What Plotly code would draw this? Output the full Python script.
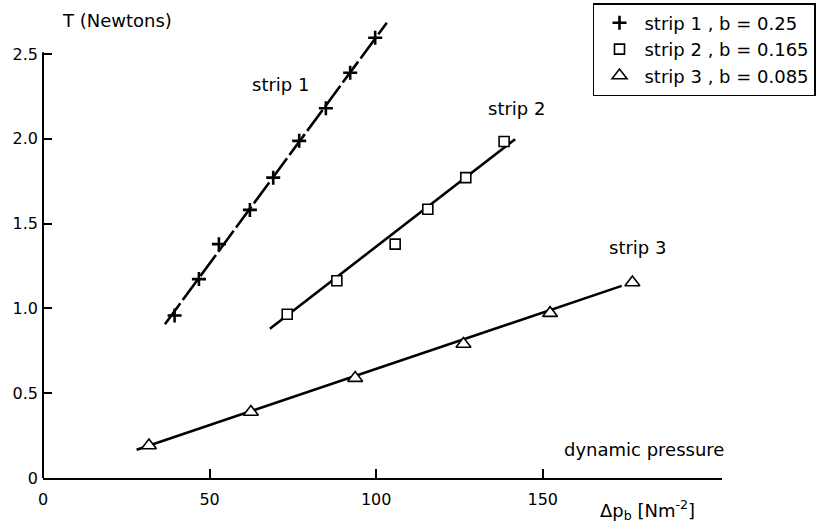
import plotly.graph_objects as go

# ---- data ----
s1_x = [39.5, 46.8, 52.8, 62.1, 69.1, 76.9, 84.9, 92.2, 99.7]
s1_y = [0.958, 1.173, 1.379, 1.581, 1.771, 1.988, 2.180, 2.390, 2.596]
s2_x = [73.3, 88.2, 105.7, 115.5, 126.9, 138.4]
s2_y = [0.966, 1.163, 1.379, 1.585, 1.771, 1.984]
s3_x = [31.8, 62.4, 93.7, 126.2, 152.2, 176.9]
s3_y = [0.192, 0.389, 0.589, 0.790, 0.972, 1.153]

# fitted straight lines (end points)
fit1_x = [36.6, 103.2]
fit1_y = [0.907, 2.685]
fit2_x = [68.1, 141.7]
fit2_y = [0.880, 1.998]
fit3_x = [28.1, 173.7]
fit3_y = [0.167, 1.133]

legend_names = ["strip 1 , b = 0.25", "strip 2 , b = 0.165", "strip 3 , b = 0.085"]
x_ticks = [0, 50, 100, 150]
x_ticktext = ["0", "50", "100", "150"]
y_ticks = [0, 0.5, 1.0, 1.5, 2.0, 2.5]
y_ticktext = ["0", "0.5", "1.0", "1.5", "2.0", "2.5"]

X_RANGE = [0, 203.8]
Y_RANGE = [0, 2.801]
Y_AXIS_TOP = 2.51

FONT = "DejaVu Sans"
fig = go.Figure()

# lines
fig.add_trace(go.Scatter(x=fit1_x, y=fit1_y, mode="lines", showlegend=False,
                         line=dict(color="black", width=2.6, dash="26px,4px"), hoverinfo="skip"))
fig.add_trace(go.Scatter(x=fit2_x, y=fit2_y, mode="lines", showlegend=False,
                         line=dict(color="black", width=2.6), hoverinfo="skip"))
fig.add_trace(go.Scatter(x=fit3_x, y=fit3_y, mode="lines", showlegend=False,
                         line=dict(color="black", width=2.6), hoverinfo="skip"))

# markers
fig.add_trace(go.Scatter(x=s1_x, y=s1_y, mode="markers", name=legend_names[0],
                         marker=dict(symbol="cross-thin", size=10, color="black",
                                     line=dict(color="black", width=2.6))))
fig.add_trace(go.Scatter(x=s2_x, y=s2_y, mode="markers", name=legend_names[1],
                         marker=dict(symbol="square", size=10, color="white",
                                     line=dict(color="black", width=1.6))))
fig.add_trace(go.Scatter(x=s3_x, y=s3_y, mode="markers", name=legend_names[2],
                         marker=dict(symbol="triangle-up", size=13, color="white",
                                     line=dict(color="black", width=1.6))))

ann_font = dict(family=FONT, size=18, color="black")
annotations = [
    dict(x=5.1, y=2.70, text="T (Newtons)", xanchor="left", yanchor="middle", yref="y"),
    dict(x=62.1, y=2.32, text="strip 1", xanchor="left", yanchor="middle", yref="y"),
    dict(x=133.0, y=2.18, text="strip 2", xanchor="left", yanchor="middle", yref="y"),
    dict(x=169.3, y=1.36, text="strip 3", xanchor="left", yanchor="middle", yref="y"),
    dict(x=155.8, y=0.17, text="dynamic pressure", xanchor="left", yanchor="middle", yref="y"),
    dict(x=166.6, y=-0.19 / Y_RANGE[1], text="Δp<sub>b</sub> [Nm<sup>-2</sup>]",
         xanchor="left", yanchor="middle", yref="paper"),
]
for a in annotations:
    a.update(xref="x", showarrow=False, font=ann_font)

fig.update_layout(
    width=821, height=528,
    margin=dict(l=43, r=99, t=3, b=50, autoexpand=False),
    paper_bgcolor="white", plot_bgcolor="white",
    font=dict(family=FONT, size=16, color="black"),
    annotations=annotations,
    shapes=[dict(type="line", xref="paper", yref="paper", x0=0, x1=0,
                 y0=0, y1=Y_AXIS_TOP / Y_RANGE[1], line=dict(color="black", width=2))],
    legend=dict(x=0.81, y=1.0, xanchor="left", yanchor="top", itemwidth=40,
                bgcolor="white", bordercolor="black", borderwidth=1.5,
                font=dict(family=FONT, size=18, color="black")),
    xaxis=dict(range=X_RANGE, showgrid=False, zeroline=False, automargin=False,
               showline=True, linecolor="black", linewidth=2,
               ticks="inside", ticklen=9, tickwidth=1.5, tickcolor="black",
               tickvals=x_ticks, ticktext=x_ticktext, ticklabelstandoff=6,
               tickfont=dict(family=FONT, size=16)),
    yaxis=dict(range=Y_RANGE, showgrid=False, zeroline=False, automargin=False,
               showline=False,
               ticks="inside", ticklen=9, tickwidth=1.5, tickcolor="black",
               tickvals=y_ticks, ticktext=y_ticktext, ticklabelstandoff=4,
               tickfont=dict(family=FONT, size=16)),
)

fig.write_html("out.html", config={"displayModeBar": False},
               post_script="document.body.style.margin='0';document.body.style.overflow='hidden';")
